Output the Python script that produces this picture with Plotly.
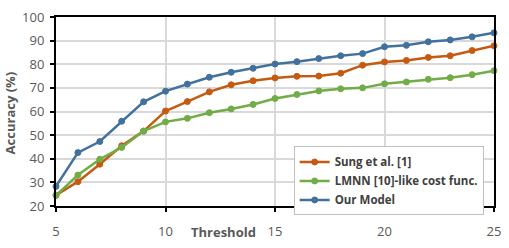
import plotly.graph_objects as go

thresholds = list(range(5, 26))
sung = [24.6, 30.3, 37.7, 45.5, 51.7, 60.2, 64.2, 68.3, 71.3, 73.0, 74.2, 74.9, 75.0, 76.2, 79.6, 81.0, 81.6, 82.9, 83.6, 85.8, 87.8]
lmnn = [24.5, 33.1, 39.8, 44.8, 51.7, 55.6, 57.1, 59.5, 61.1, 63.0, 65.5, 67.2, 68.7, 69.6, 70.0, 71.7, 72.5, 73.6, 74.3, 75.6, 77.3]
ours = [28.3, 42.6, 47.3, 55.9, 64.1, 68.6, 71.6, 74.5, 76.6, 78.3, 80.1, 81.1, 82.4, 83.6, 84.5, 87.4, 88.0, 89.5, 90.3, 91.6, 93.3]

series_names = ["Sung et al. [1]", "LMNN [10]-like cost func.", "Our Model"]
series_values = [sung, lmnn, ours]
series_colors = ["#C55A11", "#70AD47", "#41719C"]

x_ticks = [5, 10, 15, 20, 25]
y_ticks = [20, 30, 40, 50, 60, 70, 80, 90, 100]

fig = go.Figure()
for name, vals, col in zip(series_names, series_values, series_colors):
    fig.add_trace(go.Scatter(
        x=thresholds, y=vals, name=name, mode="lines+markers",
        line=dict(color=col, width=2.5),
        marker=dict(color=col, size=6, line=dict(color=col, width=1)),
        cliponaxis=False,
    ))

font_family = "Open Sans, sans-serif"
tick_font = dict(family=font_family, size=13, color="#595959")

fig.update_layout(
    width=509, height=248,
    margin=dict(l=56, r=11, t=8, b=33),
    paper_bgcolor="white", plot_bgcolor="white",
    showlegend=True,
    legend=dict(
        x=0.5426, y=0.315, xanchor="left", yanchor="top",
        bgcolor="white", bordercolor="#BFBFBF", borderwidth=1,
        font=dict(family=font_family, size=11.5, color="#404040", weight="bold"),
        itemwidth=30, tracegroupgap=0,
    ),
    xaxis=dict(
        range=[5, 25], tickvals=x_ticks, ticktext=[str(v) for v in x_ticks],
        showgrid=True, gridcolor="#D9D9D9", gridwidth=1.5,
        showline=True, linecolor="black", linewidth=2, mirror=True,
        ticks="outside", ticklen=4, tickcolor="black", tickwidth=1.5,
        tickfont=tick_font, ticklabelstandoff=8, zeroline=False,
    ),
    yaxis=dict(
        range=[20, 100], tickvals=y_ticks, ticktext=[str(v) for v in y_ticks],
        showgrid=True, gridcolor="#D9D9D9", gridwidth=1.5,
        showline=True, linecolor="black", linewidth=2, mirror=True,
        ticks="outside", ticklen=4, tickcolor="black", tickwidth=1.5,
        tickfont=tick_font, ticklabelstandoff=3, zeroline=False,
    ),
    annotations=[
        dict(text="Threshold", x=12.63, xref="x", y=-0.137, yref="paper",
             showarrow=False, xanchor="center", yanchor="middle",
             font=dict(family=font_family, size=13, color="#595959", weight="bold")),
        dict(text="Accuracy (%)", x=-0.105, xref="paper", y=0.49, yref="paper",
             showarrow=False, xanchor="center", yanchor="middle", textangle=-90,
             font=dict(family=font_family, size=13, color="#595959", weight="bold")),
    ],
)

fig.write_html("out.html", config={"displayModeBar": False},
               post_script="document.body.style.margin='0';document.body.style.overflow='hidden';")
